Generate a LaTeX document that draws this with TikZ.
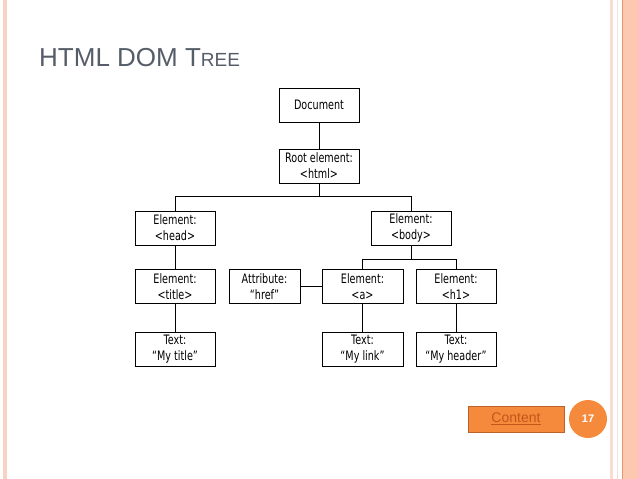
\documentclass[tikz,border=0pt]{standalone}
\usepackage{fontspec}
\usepackage{tikz}
\usetikzlibrary{positioning}
\newfontfamily\boxfont[FakeStretch=0.74]{DejaVu Sans}
\newfontfamily\slidefont{Liberation Sans}
\definecolor{titlegray}{HTML}{555D68}
\definecolor{stripe}{HTML}{F7D3C3}
\definecolor{salmon}{HTML}{FDC8B0}
\definecolor{rimorange}{HTML}{E8956B}
\definecolor{btnorange}{HTML}{F58A3C}
\definecolor{btnedge}{HTML}{B9622A}
\definecolor{linkbrown}{HTML}{C2561A}

\tikzset{
	domnode/.style={draw, line width=0.8pt, minimum width=80pt, minimum height=34pt,
		inner sep=1pt, align=center, font=\boxfont\fontsize{13}{16}\selectfont},
	branch/.style={line width=0.8pt}
}

\begin{document}
\begin{tikzpicture}[x=1pt, y=-1pt]
	\useasboundingbox (0,0) rectangle (638,479);
	\fill[white] (0,0) rectangle (638,479);

	\fill[stripe] (3,0) rectangle (7,479);
	\fill[stripe!80] (609.5,0) rectangle (612.5,479);
	\fill[stripe!70] (616.5,0) rectangle (618,479);
	\fill[salmon] (621.5,0) rectangle (638,479);
	\fill[rimorange] (621.5,0) rectangle (622.8,479);

	\node[anchor=base west, inner sep=0pt, text=titlegray] (slidetitle) at (39,66)
		{\slidefont\fontsize{26}{30}\selectfont HTML DOM T{\fontsize{19}{22}\selectfont REE}};

	\node[domnode] (doc) at (319,105) {Document};
	\node[domnode] (root) at (319,166) {Root element:\\<html>};
	\node[domnode] (head) at (175,228) {Element:\\<head>};
	\node[domnode] (body) at (411,228) {Element:\\<body>};
	\node[domnode] (title) at (175,286.5) {Element:\\<title>};
	\node[domnode, minimum width=71pt] (attr) at (264.5,286.5) {Attribute:\\“href”};
	\node[domnode, minimum width=81pt] (a) at (362.5,286.5) {Element:\\<a>};
	\node[domnode] (h1) at (456,286.5) {Element:\\<h1>};
	\node[domnode] (titletext) at (175,349.5) {Text:\\“My title”};
	\node[domnode, minimum width=81pt] (linktext) at (362.5,349.5) {Text:\\“My link”};
	\node[domnode] (headertext) at (456,349.5) {Text:\\“My header”};

	\coordinate (rootbus) at (319,196);
	\coordinate (bodybus) at (411,259);

	\draw[branch] (doc) -- (root);
	\draw[branch] (root) -- (rootbus);
	\draw[branch] (rootbus) -| (head);
	\draw[branch] (rootbus) -| (body);
	\draw[branch] (head) -- (title);
	\draw[branch] (title) -- (titletext);
	\draw[branch] (body) -- (bodybus);
	\draw[branch] (bodybus) -| (a);
	\draw[branch] (bodybus) -| (h1);
	\draw[branch] (attr) -- (a);
	\draw[branch] (a) -- (linktext);
	\draw[branch] (h1) -- (headertext);

	\node[draw=btnedge, fill=btnorange, line width=0.8pt, minimum width=96pt, minimum height=26pt,
		text=linkbrown, font=\slidefont\fontsize{14}{16}\selectfont] (content) at (516,419) {\underline{Content}};
	\node[circle, fill=btnorange, minimum size=38pt, inner sep=0pt, text=white,
		font=\slidefont\bfseries\fontsize{11}{13}\selectfont] (pagenum) at (588,419) {17};
\end{tikzpicture}
\end{document}
